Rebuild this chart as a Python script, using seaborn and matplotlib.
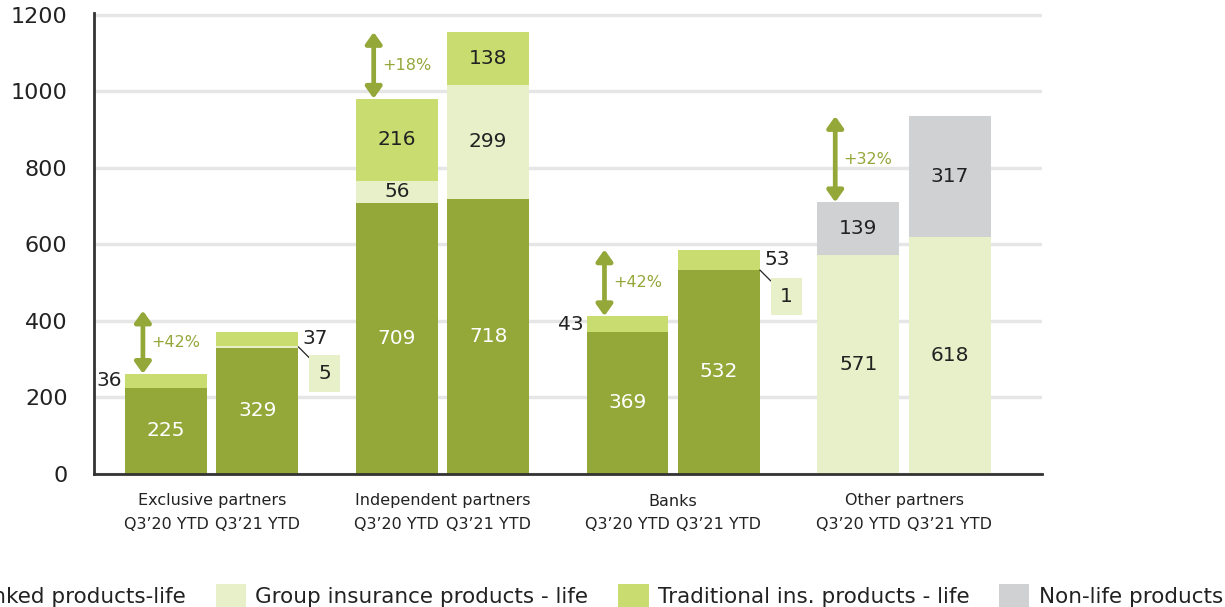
import numpy as np
import pandas as pd
import matplotlib
matplotlib.use("Agg")
import matplotlib.pyplot as plt
import seaborn as sns
from matplotlib.patches import Patch

# Premiums by distribution channel (stacked by product line)
channels = ["Exclusive partners", "Independent partners", "Banks", "Other partners"]
periods = ["Q3’20 YTD", "Q3’21 YTD"]
unit_linked = [225, 329, 709, 718, 369, 532, 0, 0]
group_insurance = [0, 5, 56, 299, 0, 1, 571, 618]
traditional = [36, 37, 216, 138, 43, 53, 0, 0]
non_life = [0, 0, 0, 0, 0, 0, 139, 317]
growth_labels = ["+42%", "+18%", "+42%", "+32%"]
series_names = ["Unit-linked products-life", "Group insurance products - life",
                "Traditional ins. products - life", "Non-life products"]
yticks = [0, 200, 400, 600, 800, 1000, 1200]

colors = ["#94a83a", "#e7f0c8", "#c8dc70", "#d0d1d3"]
text_dark = "#222222"
green = "#94a83a"

sns.set_theme(style="white")
plt.rcParams["font.family"] = ["DejaVu Sans"]

fig = plt.figure(figsize=(12.25, 6.07), dpi=100)
W, H = 1225, 607
ax = fig.add_axes([94 / W, 1 - 473.5 / H, (1042 - 94) / W, (473.5 - 13) / H])

offset = 0.198
positions = []
for g in range(len(channels)):
    positions += [g - offset, g + offset]
positions = np.array(positions)

layers = [unit_linked, group_insurance, traditional, non_life]
bottom = np.zeros(len(positions))
bottoms = []
for vals, col in zip(layers, colors):
    vals = np.asarray(vals, dtype=float)
    df = pd.DataFrame({"pos": positions, "value": vals})
    sns.barplot(data=df, x="pos", y="value", native_scale=True, width=0.896,
                bottom=bottom.copy(), color=col, saturation=1, errorbar=None,
                linewidth=0, edgecolor="none", ax=ax)
    bottoms.append(bottom.copy())
    bottom = bottom + vals
totals = bottom
half_w = 0.896 * 2 * offset / 2

# Segment value labels
for li, (vals, base) in enumerate(zip(layers, bottoms)):
    for i, (v, b) in enumerate(zip(vals, base)):
        if v <= 0:
            continue
        x = positions[i]
        ymid = b + v / 2
        if li == 2 and v < 55:
            # small traditional segments: label beside the bar
            left_side = (i % 2 == 0)
            ax.annotate(f"{v}", xy=(x - half_w if left_side else x + half_w, ymid),
                        xytext=(-2 if left_side else 3, 0), textcoords="offset points",
                        ha="right" if left_side else "left", va="center",
                        fontsize=14.5, color=text_dark)
        elif li == 1 and v < 10:
            # tiny group segments: boxed callout with leader line
            ax.annotate(f"{v}", xy=(x + half_w, b + v / 2),
                        xytext=(19, -19), textcoords="offset points",
                        ha="center", va="center", fontsize=14.5, color=text_dark,
                        bbox=dict(boxstyle="square,pad=0.45", fc=colors[1], ec="none"),
                        arrowprops=dict(arrowstyle="-", color=text_dark, lw=0.9,
                                        shrinkA=0, shrinkB=0))
        else:
            ax.text(x, ymid, f"{v}", ha="center", va="center", fontsize=14.5,
                    color="white" if li == 0 else text_dark)

# Growth arrows between the two periods
for g, lab in enumerate(growth_labels):
    lo = totals[2 * g]
    hi = max(totals[2 * g + 1], lo + 165)
    xa = positions[2 * g] - 0.1
    ax.annotate("", xy=(xa, hi), xytext=(xa, lo),
                arrowprops=dict(arrowstyle="<|-|>,head_length=0.42,head_width=0.3",
                                mutation_scale=16, color=green, lw=3.4,
                                shrinkA=0, shrinkB=0))
    ax.annotate(lab, xy=(xa, (lo + hi) / 2), xytext=(6, 0), textcoords="offset points",
                ha="left", va="center", fontsize=11.5, color=green)

ax.set_xlim(-0.510, 3.598)
ax.set_ylim(0, 1205)
ax.set_yticks(yticks)
ax.set_yticklabels([str(t) for t in yticks])
ax.set_xticks(positions)
ax.set_xticklabels(periods * len(channels))
ax.tick_params(axis="y", length=0, pad=19, labelsize=16, labelcolor=text_dark)
ax.tick_params(axis="x", length=0, pad=31, labelsize=11.5, labelcolor=text_dark)
ax.set_xlabel("")
ax.set_ylabel("")

for g, name in enumerate(channels):
    ax.text(g, -(501 - 473.5) / 460.5, name, transform=ax.get_xaxis_transform(),
            ha="center", va="center", fontsize=11.5, color=text_dark)

ax.yaxis.grid(True, color="#e6e6e6", lw=2.5)
ax.xaxis.grid(False)
ax.set_axisbelow(True)
for side in ["top", "right"]:
    ax.spines[side].set_visible(False)
for side in ["left", "bottom"]:
    ax.spines[side].set_color("#333333")
    ax.spines[side].set_linewidth(2)

handles = [Patch(facecolor=c, edgecolor="none", label=n) for c, n in zip(colors, series_names)]
fig.legend(handles=handles, loc="center left", bbox_to_anchor=(-110 / W, 1 - 596 / H),
           ncol=4, frameon=False, fontsize=15.5, handlelength=1.4, handleheight=1.4,
           handletextpad=0.42, columnspacing=1.4, borderpad=0, borderaxespad=0,
           labelcolor=text_dark)

fig.savefig("out.png", dpi=100)
